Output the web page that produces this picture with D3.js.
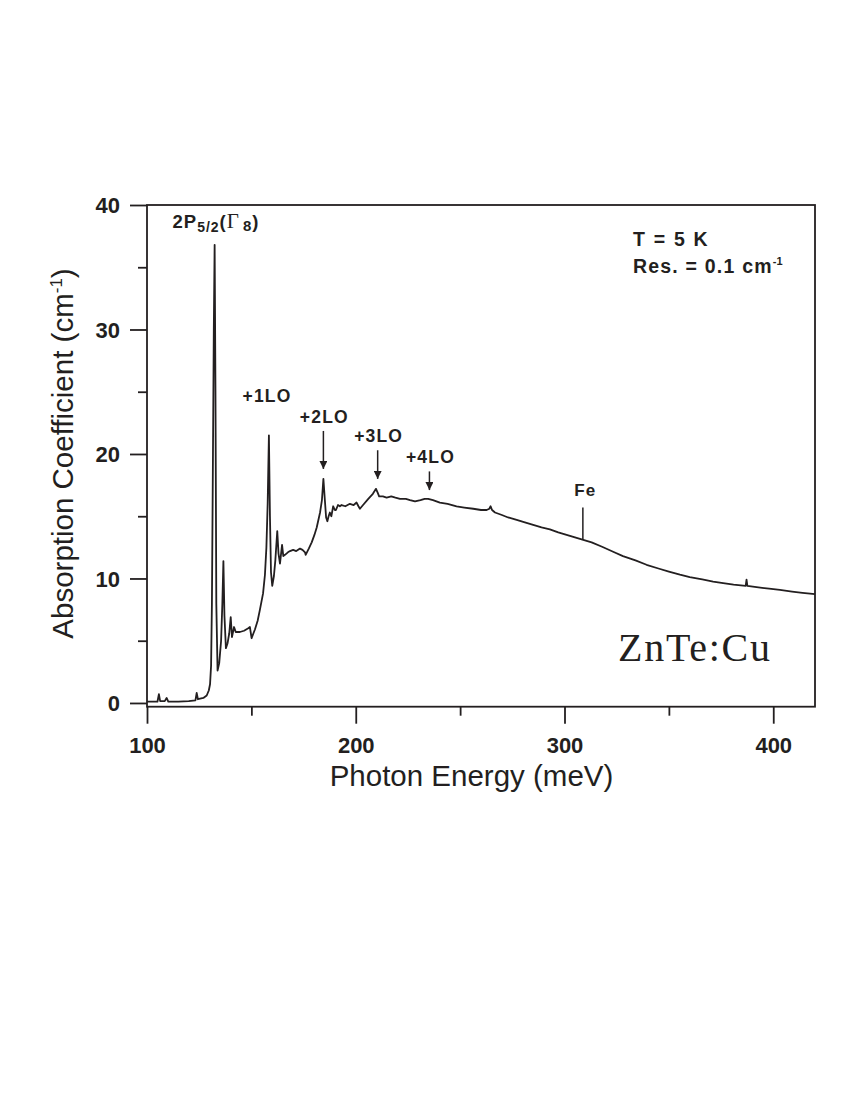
<!DOCTYPE html>
<html>
<head>
<meta charset="utf-8">
<script src="https://cdn.jsdelivr.net/npm/d3@7/dist/d3.min.js"></script>
<style>
  html, body { margin: 0; padding: 0; background: #fff; }
  svg { display: block; }
</style>
</head>
<body>
<svg id="chart" width="850" height="1100"></svg>
<script>
// ---- Data ----
const energy = [
  100.0,103,105.0,105.7,106.3,108.5,109.4,110.2,115,120,123.2,123.8,124.4,127,128.6,129.6,130.2,130.7,131.1,131.6,
  132.0,132.4,132.8,133.2,133.8,134.6,135.5,136.1,136.6,137.1,137.8,138.6,139.4,140.1,140.7,141.7,142.5,144.5,146.5,148.5,
  149.3,150.1,151.0,151.7,153,154.1,155.6,156.5,157.2,157.8,158.4,158.9,159.4,160.0,160.8,161.5,162.4,163.0,163.7,164.7,
  165.3,166.1,167.5,168.5,170,171.5,173.3,174.5,175.7,176.0,177.5,178.9,180.2,181.3,182.9,183.8,184.5,185.2,185.8,186.4,
  187.0,187.6,188.3,189.2,190.0,190.5,191.5,192.4,193.2,195,197.2,199,200.4,201.3,202.0,203.5,206.0,208.2,209.7,210.5,
  211.2,213,214.8,217,219,221.2,224,226,228.4,231,233,234.7,237,240.3,244,248.3,252,256.3,260,262.7,
  264.0,264.6,265.3,266.7,270,273,277.1,281,285,289,293,297,301,305,309,313,318,323.3,328,334,
  339.3,345,350,355.3,360,366,371.2,376,381,386.8,387.2,387.6,392,398,403.2,409,414,420
];
const absorption = [
  0.1,0.1,0.1,0.7,0.15,0.15,0.4,0.1,0.1,0.15,0.2,0.8,0.3,0.4,0.6,1.0,1.5,3,8,20,
  30,36.8,25,8,2.6,3.2,5,8,11.4,7,4.4,4.8,5.6,6.9,5.3,6.1,5.7,5.7,5.8,6.0,
  6.1,5.2,5.6,5.9,6.6,7.5,8.8,10.3,12.5,16,21.5,15,10.5,9.4,10.2,11.5,13.8,12,11.2,12.7,
  11.8,11.9,12.1,12.2,12.3,12.2,12.4,12.3,12.1,11.9,12.4,12.9,13.5,14.1,15.3,16.3,18.0,16.3,14.9,14.6,
  15.0,15.3,15.0,15.8,15.5,15.5,15.9,15.8,15.9,15.8,16.0,15.9,16.1,15.8,15.6,15.9,16.4,16.8,17.2,16.9,
  16.6,16.6,16.5,16.6,16.5,16.4,16.4,16.3,16.2,16.3,16.4,16.4,16.3,16.1,16.0,15.8,15.7,15.6,15.5,15.5,
  15.6,15.8,15.5,15.3,15.1,14.9,14.7,14.5,14.3,14.1,13.95,13.7,13.5,13.3,13.1,12.9,12.55,12.15,11.8,11.45,
  11.1,10.8,10.55,10.3,10.1,9.92,9.75,9.62,9.5,9.4,9.9,9.4,9.3,9.18,9.08,8.95,8.85,8.74
];
const xMajorTicks = [100, 200, 300, 400];
const xMinorTicks = [150, 250, 350];
const yMajorTicks = [0, 10, 20, 30, 40];
const yMinorTicks = [5, 15, 25, 35];
// annotations: label, energy of arrow, arrow top value, arrow tip value
const loLabels = ["+2LO", "+3LO", "+4LO"];
const loEnergy = [184.5, 210.5, 235.3];
const loTop = [21.85, 20.3, 18.6];
const loTip = [18.8, 18.0, 17.1];
const feEnergy = 308.8;
const feRange = [13.1, 15.7];

// ---- Layout ----
const svg = d3.select("#chart");
const mLeft = 147, mRight = 815, mTop = 205, mBottom = 706.7;
const x = d3.scaleLinear().domain([100, 420]).range([mLeft, mRight]);
const y = d3.scaleLinear().domain([-0.3, 40]).range([mBottom, mTop]);
const ink = "#231f20";
const sans = "'Liberation Sans', Arial, sans-serif";
const serif = "'Liberation Serif', 'Times New Roman', serif";

// frame
svg.append("rect").attr("x", mLeft).attr("y", mTop).attr("width", mRight - mLeft).attr("height", mBottom - mTop)
  .attr("fill", "none").attr("stroke", ink).attr("stroke-width", 1.8);

// x axis major
const gx = svg.append("g").attr("transform", `translate(0,${mBottom})`)
  .call(d3.axisBottom(x).tickValues(xMajorTicks).tickSize(17).tickPadding(6).tickFormat(d3.format("d")));
const gx2 = svg.append("g").attr("transform", `translate(0,${mBottom})`)
  .call(d3.axisBottom(x).tickValues(xMinorTicks).tickSize(9).tickFormat(""));
// y axis
const gy = svg.append("g").attr("transform", `translate(${mLeft},0)`)
  .call(d3.axisLeft(y).tickValues(yMajorTicks).tickSize(17).tickPadding(8).tickFormat(d3.format("d")));
const gy2 = svg.append("g").attr("transform", `translate(${mLeft},0)`)
  .call(d3.axisLeft(y).tickValues(yMinorTicks).tickSize(9).tickFormat(""));
[gx, gx2, gy, gy2].forEach(g => {
  g.select(".domain").remove();
  g.selectAll("line").attr("stroke", ink).attr("stroke-width", 1.8);
  g.selectAll("text").attr("fill", ink).attr("font-family", sans).attr("font-weight", "bold").attr("font-size", 22);
});
gx.selectAll("text").attr("dy", "0.71em").attr("y", 30.8);
gy.selectAll("text").attr("x", -27).attr("dy", "0.36em");

// axis titles
svg.append("text").attr("x", 471.5).attr("y", 786)
  .attr("text-anchor", "middle").attr("font-family", sans).attr("font-size", 29.5).attr("fill", ink)
  .text("Photon Energy (meV)");
const yt = svg.append("text").attr("transform", "translate(73,453.5) rotate(-90)")
  .attr("text-anchor", "middle").attr("font-family", sans).attr("font-size", 29.5).attr("fill", ink);
yt.append("tspan").text("Absorption Coefficient (cm");
yt.append("tspan").attr("font-size", 17).attr("dy", -11).text("-1");
yt.append("tspan").attr("dy", 11).text(")");

// curve
const pts = energy.map((e, i) => [e, absorption[i]]);
svg.append("path").datum(pts)
  .attr("fill", "none").attr("stroke", ink).attr("stroke-width", 1.8).attr("stroke-linejoin", "round")
  .attr("d", d3.line().x(d => x(d[0])).y(d => y(d[1])));

// arrowhead marker
svg.append("defs").append("marker").attr("id", "arr").attr("viewBox", "0 0 10 10")
  .attr("refX", 10).attr("refY", 5).attr("markerWidth", 8).attr("markerHeight", 8)
  .attr("markerUnits", "userSpaceOnUse").attr("orient", "auto")
  .append("path").attr("d", "M0,0 L10,5 L0,10 Z").attr("fill", ink);

// 2P label
const tp = svg.append("text").attr("x", 172.5).attr("y", 228.3).attr("font-family", sans)
  .attr("font-weight", "bold").attr("font-size", 18.5).attr("letter-spacing", 1).attr("fill", ink);
tp.append("tspan").text("2P");
tp.append("tspan").attr("font-size", 14).attr("dy", 4).text("5/2");
tp.append("tspan").attr("dy", -4).text("(");
tp.append("tspan").attr("font-family", serif).attr("font-weight", "normal").attr("font-size", 21).text("Γ");
tp.append("tspan").attr("font-size", 15).attr("dy", 3).attr("dx", 3).text("8");
tp.append("tspan").attr("dy", -3).text(")");

// +1LO
const annot = (sel) => sel.attr("font-family", sans).attr("font-weight", "bold").attr("font-size", 17.5)
  .attr("letter-spacing", 1.2).attr("fill", ink).attr("text-anchor", "middle");
svg.append("text").attr("x", 267).attr("y", 401.5).call(annot).text("+1LO");

// LO arrows
loLabels.forEach((lab, i) => {
  const xe = x(loEnergy[i]);
  svg.append("text").attr("x", xe + 1).attr("y", y(loTop[i]) - 8).call(annot).text(lab);
  svg.append("line").attr("x1", xe).attr("x2", xe).attr("y1", y(loTop[i])).attr("y2", y(loTip[i]))
    .attr("stroke", ink).attr("stroke-width", 1.5).attr("marker-end", "url(#arr)");
});

// Fe
svg.append("line").attr("x1", x(feEnergy)).attr("x2", x(feEnergy)).attr("y1", y(feRange[0])).attr("y2", y(feRange[1]))
  .attr("stroke", ink).attr("stroke-width", 1.5);
svg.append("text").attr("x", x(feEnergy) + 2.5).attr("y", 495.5).call(annot).attr("font-size", 17).text("Fe");

// conditions
svg.append("text").attr("x", 633).attr("y", 245.5).attr("font-family", sans).attr("font-weight", "bold")
  .attr("font-size", 19.5).attr("letter-spacing", 1.7).attr("fill", ink).text("T = 5 K");
const rs = svg.append("text").attr("x", 633).attr("y", 272.5).attr("font-family", sans).attr("font-weight", "bold")
  .attr("font-size", 19.5).attr("letter-spacing", 1.2).attr("fill", ink);
rs.append("tspan").text("Res. = 0.1 cm");
rs.append("tspan").attr("font-size", 11).attr("dy", -8).attr("letter-spacing", 0).text("-1");

// sample name
svg.append("text").attr("x", 618).attr("y", 660.5).attr("font-family", serif)
  .attr("font-size", 40).attr("fill", ink).attr("textLength", 152).attr("lengthAdjust", "spacing").text("ZnTe:Cu");
</script>
</body>
</html>
